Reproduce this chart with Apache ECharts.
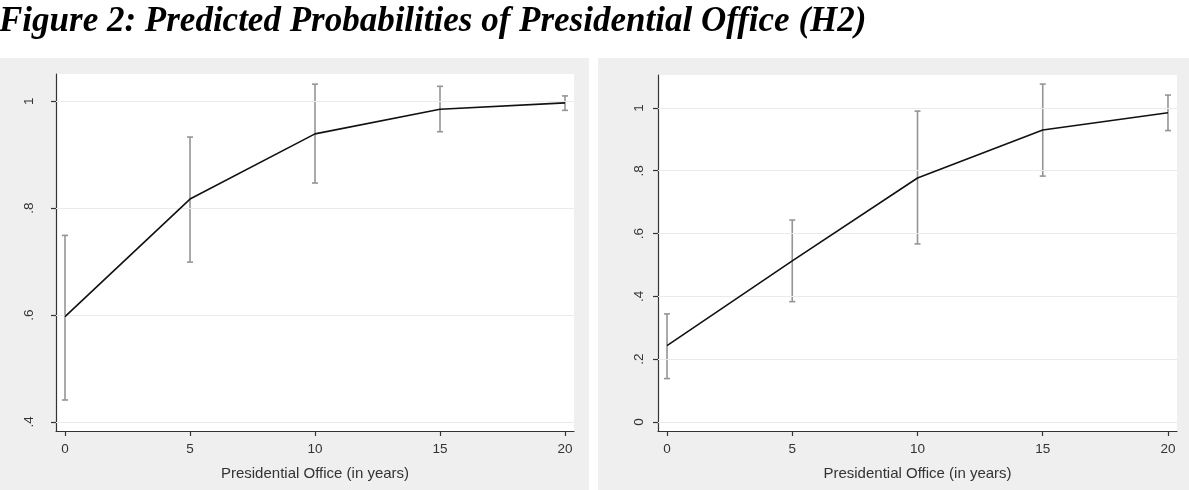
<!DOCTYPE html>
<html>
<head>
<meta charset="utf-8">
<script src="https://cdn.jsdelivr.net/npm/echarts@6/dist/echarts.min.js"></script>
<style>
html,body{margin:0;padding:0;background:#fff;}
#chart{width:1189px;height:490px;}
</style>
</head>
<body>
<div id="chart"></div>
<script>
// ---- data ----
const years = [0, 5, 10, 15, 20];
const xTicks = [0, 5, 10, 15, 20];

const leftProb  = [0.597, 0.817, 0.939, 0.985, 0.997];
const leftLow   = [0.441, 0.699, 0.847, 0.943, 0.983];
const leftHigh  = [0.749, 0.933, 1.032, 1.028, 1.010];

const rightProb = [0.243, 0.513, 0.777, 0.930, 0.985];
const rightLow  = [0.138, 0.383, 0.567, 0.783, 0.928];
const rightHigh = [0.344, 0.643, 0.990, 1.076, 1.041];

const leftYTicks  = [0.4, 0.6, 0.8, 1];
const leftYLabels = ['.4', '.6', '.8', '1'];
const rightYTicks  = [0, 0.2, 0.4, 0.6, 0.8, 1];
const rightYLabels = ['0', '.2', '.4', '.6', '.8', '1'];

const titleText = 'Figure 2: Predicted Probabilities of Presidential Office (H2)';
const xTitle = 'Presidential Office (in years)';

// ---- chart ----
const chart = echarts.init(document.getElementById('chart'), null, {renderer: 'canvas'});

const labelFont = {fontFamily: 'Liberation Sans', fontSize: 13.5, color: '#333'};

function xAxisDef(gridIndex) {
  return {
    type: 'value', gridIndex: gridIndex, min: -0.36, max: 20.36,
    name: xTitle, nameLocation: 'middle', nameGap: 35,
    nameTextStyle: {fontFamily: 'Liberation Sans', fontSize: 15, color: '#333'},
    axisLine: {show: true, onZero: false, lineStyle: {color: '#333', width: 1.2}},
    axisTick: {show: true, length: 5, customValues: xTicks, lineStyle: {color: '#333', width: 1.2}},
    axisLabel: Object.assign({show: true, margin: 11, customValues: xTicks}, labelFont),
    splitLine: {show: false}
  };
}
function yAxisDef(gridIndex, min, max, ticks, labels, margin) {
  return {
    type: 'value', gridIndex: gridIndex, min: min, max: max,
    axisLine: {show: true, onZero: false, lineStyle: {color: '#333', width: 1.2}},
    axisTick: {show: true, length: 5, customValues: ticks, lineStyle: {color: '#333', width: 1.2}},
    axisLabel: Object.assign({
      show: true, rotate: 90, margin: margin, customValues: ticks,
      formatter: function (v) {
        const i = ticks.findIndex(t => Math.abs(t - v) < 1e-9);
        return i >= 0 ? labels[i] : '';
      }
    }, labelFont),
    splitLine: {show: false}
  };
}

function errorSeries(idx, lows, highs) {
  return {
    type: 'custom', xAxisIndex: idx, yAxisIndex: idx, z: 3,
    data: years.map((x, i) => [x, lows[i], highs[i]]),
    renderItem: function (params, api) {
      const x = api.value(0);
      const pHi = api.coord([x, api.value(2)]);
      const pLo = api.coord([x, api.value(1)]);
      const w = 3;
      const style = {stroke: '#959595', lineWidth: 1.6, fill: null};
      return {
        type: 'group',
        children: [
          {type: 'line', shape: {x1: pHi[0], y1: pHi[1], x2: pLo[0], y2: pLo[1]}, style: style},
          {type: 'line', shape: {x1: pHi[0] - w, y1: pHi[1], x2: pHi[0] + w, y2: pHi[1]}, style: style},
          {type: 'line', shape: {x1: pLo[0] - w, y1: pLo[1], x2: pLo[0] + w, y2: pLo[1]}, style: style}
        ]
      };
    }
  };
}
function lineSeries(idx, probs) {
  return {
    type: 'line', xAxisIndex: idx, yAxisIndex: idx, z: 5,
    data: years.map((x, i) => [x, probs[i]]),
    symbol: 'none', lineStyle: {color: '#111', width: 1.6}
  };
}
function gridSeries(idx, probs, ticks) {
  return {
    type: 'line', xAxisIndex: idx, yAxisIndex: idx, z: 1,
    data: years.map((x, i) => [x, probs[i]]),
    symbol: 'none', lineStyle: {opacity: 0}, silent: true,
    markLine: {
      silent: true, symbol: 'none', label: {show: false}, animation: false,
      lineStyle: {color: '#ebebeb', width: 1.2, type: 'solid'},
      emphasis: {disabled: true},
      data: ticks.map(t => ({yAxis: t}))
    }
  };
}

const option = {
  animation: false,
  backgroundColor: '#ffffff',
  title: {
    text: titleText, left: -6, top: -1,
    textStyle: {fontFamily: 'Liberation Serif', fontStyle: 'italic', fontWeight: 'bold', fontSize: 35, color: '#000'}
  },
  graphic: [
    {type: 'rect', z: -10, shape: {x: 0, y: 58, width: 589, height: 432}, style: {fill: '#efefef'}},
    {type: 'rect', z: -10, shape: {x: 598, y: 58, width: 591, height: 432}, style: {fill: '#efefef'}}
  ],
  grid: [
    {left: 56, top: 74, width: 518, height: 357, show: true, backgroundColor: '#ffffff', borderWidth: 0},
    {left: 658, top: 75, width: 519, height: 356, show: true, backgroundColor: '#ffffff', borderWidth: 0}
  ],
  xAxis: [xAxisDef(0), xAxisDef(1)],
  yAxis: [
    yAxisDef(0, 0.383, 1.051, leftYTicks, leftYLabels, 20),
    yAxisDef(1, -0.029, 1.105, rightYTicks, rightYLabels, 12)
  ],
  series: [
    gridSeries(0, leftProb, leftYTicks),
    errorSeries(0, leftLow, leftHigh),
    lineSeries(0, leftProb),
    gridSeries(1, rightProb, rightYTicks),
    errorSeries(1, rightLow, rightHigh),
    lineSeries(1, rightProb)
  ]
};
chart.setOption(option);
</script>
</body>
</html>
